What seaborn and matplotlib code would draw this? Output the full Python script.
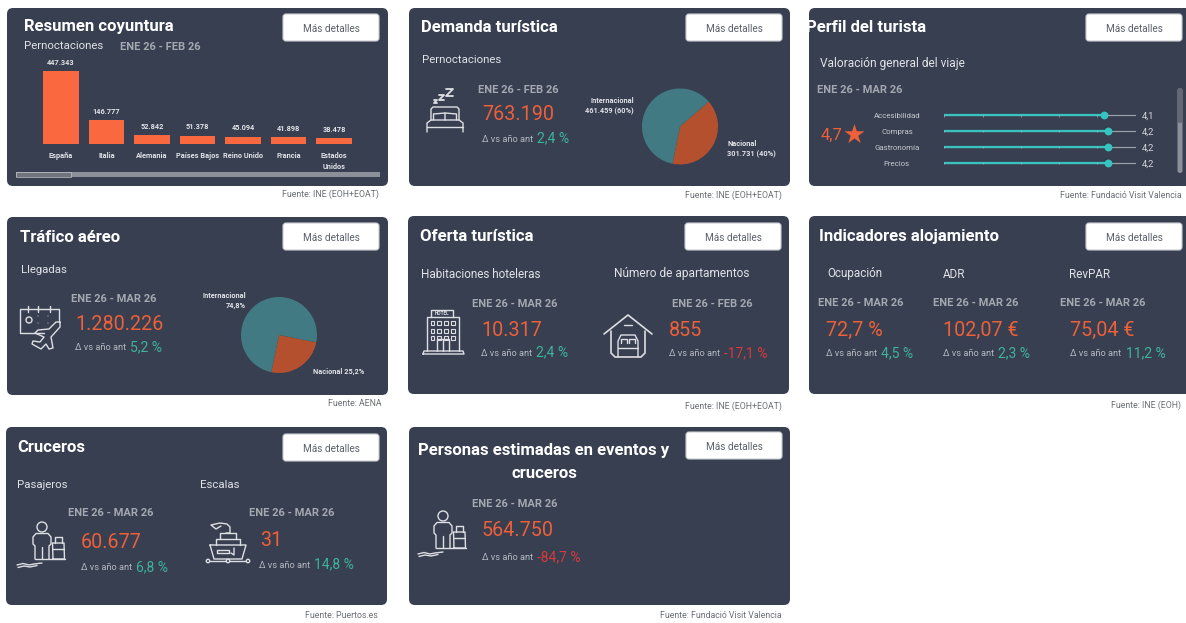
import matplotlib
matplotlib.use("Agg")
import matplotlib.pyplot as plt
import pandas as pd
import seaborn as sns
from matplotlib.patches import FancyBboxPatch, Rectangle, Circle

W, H = 1186, 623

# datos
bar_labels = ["España", "Italia", "Alemania", "Países Bajos", "Reino Unido", "Francia", "Estados\nUnidos"]
bar_values = [447343, 146777, 52842, 51378, 45094, 41898, 38478]
bar_texts = ["447.343", "146.777", "52.842", "51.378", "45.094", "41.898", "38.478"]

pie_demanda = [301731, 461459]
pie_trafico = [25.2, 74.8]

val_labels = ["Accesibilidad", "Compras", "Gastronomía", "Precios"]
val_values = [4.17, 4.27, 4.27, 4.27]
val_texts = ["4,1", "4,2", "4,2", "4,2"]

CARD = "#373F51"
ORANGE = "#EE6039"
BAR = "#F9683F"
GREEN = "#3FB39B"
RED = "#D8393B"
TEAL = "#417A82"
RUST = "#B5502F"
SLIDER = "#35C4C0"
SOFT = "#E1E3E7"
DATE = "#A4A8B0"
DELTA = "#B4B8BF"
ICON = "#DEDFE3"

sns.set_theme(style="white")
plt.rcParams["font.family"] = ["Roboto", "DejaVu Sans"]

fig = plt.figure(figsize=(W / 100, H / 100), dpi=100, facecolor="white")
bg = fig.add_axes([0, 0, 1, 1])
bg.set_xlim(0, W)
bg.set_ylim(H, 0)
bg.axis("off")


def inset(x0, y0, x1, y1):
    ax = fig.add_axes([x0 / W, 1 - y1 / H, (x1 - x0) / W, (y1 - y0) / H])
    ax.patch.set_alpha(0)
    return ax


def put(x, y, s, **kw):
    # va center queda un poco alto con esta fuente
    kw.setdefault("va", "center")
    kw.setdefault("zorder", 3)
    return bg.text(x, y + 1, s, **kw)


def card(x0, y0, x1, y1, title, tx, ty, bx, by, source, sx, sy):
    box = FancyBboxPatch((x0, y0), x1 - x0, y1 - y0, boxstyle="round,pad=0,rounding_size=6",
                         fc=CARD, ec="none", zorder=1)
    bg.add_patch(box)
    t = put(tx, ty, title, color="white", fontsize=12, fontweight="bold")
    t.set_clip_path(box)
    btn = FancyBboxPatch((bx, by), 96, 27, boxstyle="round,pad=0,rounding_size=3",
                         fc="white", ec="#C9CCD2", lw=0.8, zorder=3)
    bg.add_patch(btn)
    put(bx + 48, by + 14, "Más detalles", color="#5A5F69", fontsize=7.2, ha="center", zorder=4)
    put(sx, sy, source, color="#6B6E74", fontsize=6.3, ha="right")


def sub(x, y, s, size=8.7):
    put(x, y, s, color=SOFT, fontsize=size)


def date(x, y, s):
    put(x, y, s, color=DATE, fontsize=8, fontweight="bold")


def kpi(dx, dy, dtxt, vx, vy, value, lx, ly, px, pct, good=True):
    date(dx, dy, dtxt)
    put(vx, vy, value, color=ORANGE, fontsize=14.2)
    put(lx, ly, "Δ vs año ant", color=DELTA, fontsize=6.7)
    put(px, ly - 0.5, pct, color=GREEN if good else RED, fontsize=10)


def small(x, y, s, ha="left"):
    put(x, y, s, color=SOFT, fontsize=5.3, fontweight="bold", ha=ha)


def pline(pts, ox=0, oy=0, s=1.0, lw=1.0):
    xs = [ox + p[0] * s for p in pts]
    ys = [oy + p[1] * s for p in pts]
    bg.plot(xs, ys, color=ICON, lw=lw, zorder=3, solid_capstyle="round", solid_joinstyle="round")


def bed_icon(ox, oy):
    pline([(0, 44), (0, 35), (4, 32), (32, 32), (36, 35), (36, 44)], ox, oy)
    pline([(0, 38.5), (36, 38.5)], ox, oy)
    pline([(4, 32), (4, 21), (6, 19), (30, 19), (32, 21), (32, 32)], ox, oy)
    pline([(6.5, 32), (6.5, 26), (18, 25), (18, 32)], ox, oy)
    pline([(18, 25), (29.5, 26), (29.5, 32)], ox, oy)
    for zx, zy, z in [(7, 12, 3), (12, 7, 5), (19, 1, 7)]:
        pline([(zx, zy), (zx + z, zy), (zx, zy + z), (zx + z, zy + z)], ox, oy, lw=1.3)


def hotel_icon(ox, oy):
    pline([(8, 7), (8, 0), (30, 0), (30, 7)], ox, oy)
    put(ox + 19, oy + 2.7, "HOTEL", color=ICON, fontsize=3.4, fontweight="bold", ha="center")
    pline([(4, 41), (4, 7), (36, 7), (36, 41)], ox, oy)
    pline([(0, 44), (1, 41), (40, 41), (41, 44), (0, 44)], ox, oy)
    for r in range(3):
        for c in range(4):
            bg.add_patch(Rectangle((ox + 7.5 + c * 6.8, oy + 11 + r * 7.5), 3.6, 4, fc="none", ec=ICON, lw=0.8, zorder=3))
    pline([(14, 41), (14, 29), (26, 29), (26, 41)], ox, oy)
    pline([(20, 29), (20, 41)], ox, oy)


def house_icon(ox, oy):
    pline([(0, 19), (24, 0), (48, 19)], ox, oy, lw=1.2)
    pline([(7, 16), (7, 38), (11, 42), (37, 42), (41, 38), (41, 16)], ox, oy, lw=1.2)
    pline([(20, 10), (28, 10)], ox, oy)
    pline([(14, 42), (14, 26), (17, 20), (31, 20), (34, 26), (34, 42)], ox, oy)
    pline([(14, 33), (34, 33)], ox, oy)
    pline([(17, 28), (17, 24), (23, 24), (23, 28)], ox, oy)
    pline([(25, 28), (25, 24), (31, 24), (31, 28)], ox, oy)


def calendar_icon(ox, oy):
    pline([(24, 27), (0, 27), (0, 3), (39, 3), (39, 14)], ox, oy)
    for x in [8, 18, 30]:
        pline([(x, 0), (x, 6)], ox, oy)
    for x, y in [(18, 10), (18, 17), (28, 10), (28, 17)]:
        bg.add_patch(Circle((ox + x, oy + y), 0.5, fc=ICON, ec="none", zorder=3))
    bg.add_patch(Circle((ox + 9, oy + 14), 3, fc="none", ec=ICON, lw=1, zorder=3))
    pline([(40, 16), (36, 16), (29, 23), (18, 24), (15, 27), (24, 31), (20, 36), (13, 35), (12, 38),
           (21, 43), (26, 38), (29, 43), (33, 42), (31, 31), (40, 21), (40, 16)], ox, oy)


def person_icon(ox, oy):
    bg.add_patch(Circle((ox + 25, oy + 5), 5, fc="none", ec=ICON, lw=1, zorder=3))
    pline([(18, 37), (18, 24), (16, 22), (16, 15), (19, 11.5), (31, 11.5), (34, 15), (34, 22), (32, 24), (32, 37)], ox, oy)
    pline([(25, 25), (25, 37)], ox, oy)
    pline([(36, 37), (35.5, 21), (47, 21), (47.5, 37), (36, 37)], ox, oy)
    pline([(38, 21), (38, 15), (45, 15), (45, 21)], ox, oy)
    pline([(36, 27), (47, 27)], ox, oy)
    pline([(18, 37), (48, 37)], ox, oy)
    pline([(0, 43), (6, 41.5), (12, 43), (17, 42), (25, 41)], ox, oy)
    pline([(1, 45.5), (7, 44), (13, 45), (20, 43.5)], ox, oy)


def ship_icon(ox, oy):
    pline([(5, 23), (41, 23), (37, 37), (9, 37), (5, 23)], ox, oy)
    pline([(11, 23), (11, 17), (35, 17), (35, 23)], ox, oy)
    pline([(15, 17), (15, 11), (31, 11), (31, 17)], ox, oy)
    pline([(21, 11), (25, 11), (25, 5), (22, 2), (15, 1), (6, 3), (11, 7), (16, 4)], ox, oy)
    pline([(12, 28), (24, 28), (24, 31), (12, 31), (12, 28)], ox, oy)
    pline([(29, 26), (29, 33), (26, 31)], ox, oy)
    pline([(3, 39), (43, 39)], ox, oy)
    for x in [3, 23, 43]:
        bg.add_patch(Circle((ox + x, oy + 39), 1.7, fc=CARD, ec=ICON, lw=1, zorder=4))


# tarjeta 1
card(7, 8, 388, 186, "Resumen coyuntura", 24, 25, 283, 14, "Fuente: INE (EOH+EOAT)", 379, 193)
sub(24, 45, "Pernoctaciones", 8.2)
date(120, 45.5, "ENE 26 - FEB 26")

ax = inset(38.25, 71, 356.75, 144)
sns.barplot(data=pd.DataFrame({"pais": bar_labels, "valor": bar_values}), x="pais", y="valor",
            color=BAR, saturation=1, width=0.79, linewidth=0, ax=ax)
ax.set_ylim(0, max(bar_values))
ax.set_xlim(-0.5, 6.5)
ax.set_xlabel("")
ax.set_ylabel("")
ax.set_yticks([])
ax.tick_params(axis="x", length=0, pad=6, labelsize=5.3, labelcolor=SOFT)
for lab in ax.get_xticklabels():
    lab.set_fontweight("bold")
    lab.set_linespacing(1.4)
    lab.set_va("top")
ax.bar_label(ax.containers[0], labels=bar_texts, padding=3, color=SOFT, fontsize=5.3, fontweight="bold", clip_on=False)
sns.despine(ax=ax, left=True, bottom=True)

bg.add_patch(Rectangle((16, 172), 364, 5, fc="#8C9098", ec="none", zorder=3))
bg.add_patch(Rectangle((16, 172), 55, 5, fc="#6F747D", ec="#D5D7DA", lw=0.4, zorder=3))

# tarjeta 2
card(409, 8, 790, 186, "Demanda turística", 421, 27, 686, 14, "Fuente: INE (EOH+EOAT)", 782, 194)
sub(422, 59, "Pernoctaciones", 8.2)
kpi(478.5, 89, "ENE 26 - FEB 26", 482, 114, "763.190", 482, 138, 537, "2,4 %")
bed_icon(427, 88)
ax = inset(640, 86.5, 720, 166.5)
ax.pie(pie_demanda, colors=[RUST, TEAL], startangle=41, counterclock=False, radius=0.95,
       wedgeprops={"edgecolor": "none"})
ax.set_xlim(-1, 1)
ax.set_ylim(-1, 1)
small(634, 100, "Internacional", "right")
small(634, 110, "461.459 (60%)", "right")
small(727, 143, "Nacional")
small(727, 153, "301.731 (40%)")

# tarjeta 3
card(809, 8, 1192, 186, "Perfil del turista", 806, 27, 1086, 14, "Fuente: Fundació Visit Valencia", 1182, 194)
sub(820, 63, "Valoración general del viaje", 8.6)
date(817, 89, "ENE 26 - MAR 26")
put(821, 134, "4,7", color=ORANGE, fontsize=12)
bg.scatter([854], [134], marker="*", s=230, color=ORANGE, linewidths=0, zorder=3)

ax = inset(944.3, 107.3, 1135.7, 171)
df_val = pd.DataFrame({"item": val_labels, "valor": val_values, "pos": range(4)})
ax.hlines(range(4), 0, 5, color="#9A9EA6", lw=0.9, zorder=1)
ax.hlines(range(4), 0, val_values, color=SLIDER, lw=1.6, zorder=2)
for t in range(6):
    ax.vlines([t] * 4, [i - 0.08 for i in range(4)], [i + 0.08 for i in range(4)], color="#A9ADB4", lw=0.5, zorder=3)
sns.scatterplot(data=df_val, x="valor", y="pos", color=SLIDER, s=32, linewidth=0, zorder=4, ax=ax, clip_on=False)
ax.set_xlim(0, 5)
ax.set_ylim(3.5, -0.5)
ax.axis("off")
for i, (lab, txt) in enumerate(zip(val_labels, val_texts)):
    yy = 115.3 + i * 15.9
    put(897, yy, lab, color="#C6C9CF", fontsize=5.7, ha="center")
    put(1142, yy, txt, color="#D5D7DB", fontsize=6.8)
bg.add_patch(FancyBboxPatch((1177.5, 88), 5, 85, boxstyle="round,pad=0,rounding_size=2.5", fc="#8C9098", ec="none", zorder=3))
bg.add_patch(FancyBboxPatch((1177.5, 88), 5, 35, boxstyle="round,pad=0,rounding_size=2.5", fc="#636874", ec="none", zorder=4))

# tarjeta 4
card(7, 217, 388, 395, "Tráfico aéreo", 20, 236, 283, 223, "Fuente: AENA", 381, 403)
sub(21, 269, "Llegadas", 8.2)
kpi(71, 298, "ENE 26 - MAR 26", 75, 324, "1.280.226", 75, 347, 130, "5,2 %")
calendar_icon(20, 306)
ax = inset(239, 295, 319, 375)
ax.pie(pie_trafico, colors=[RUST, TEAL], startangle=-11, counterclock=False, radius=0.95,
       wedgeprops={"edgecolor": "none"})
ax.set_xlim(-1, 1)
ax.set_ylim(-1, 1)
small(246, 295, "Internacional", "right")
small(246, 305, "74,8%", "right")
small(313, 371, "Nacional 25,2%")

# tarjeta 5
card(408, 216, 789, 394, "Oferta turística", 420, 235.5, 685, 223, "Fuente: INE (EOH+EOAT)", 782, 405)
sub(421, 273, "Habitaciones hoteleras", 8.5)
sub(614, 273, "Número de apartamentos", 8.6)
kpi(472, 303, "ENE 26 - MAR 26", 481, 329, "10.317", 481, 352, 536, "2,4 %")
kpi(672, 303, "ENE 26 - FEB 26", 669, 329, "855", 669, 353, 724, "-17,1 %", good=False)
hotel_icon(423, 310)
house_icon(604, 315)

# tarjeta 6
card(809, 216, 1192, 394, "Indicadores alojamiento", 819, 235.5, 1086, 223, "Fuente: INE (EOH)", 1181, 404)
sub(827, 273, "Ocupación", 8.4)
sub(943, 273, "ADR", 8.4)
sub(1069, 273, "RevPAR", 8.4)
kpi(818, 302, "ENE 26 - MAR 26", 826, 329, "72,7 %", 826, 353, 881, "4,5 %")
kpi(933, 302, "ENE 26 - MAR 26", 943, 329, "102,07 €", 943, 353, 998, "2,3 %")
kpi(1060, 302, "ENE 26 - MAR 26", 1070, 329, "75,04 €", 1070, 353, 1126, "11,2 %")

# tarjeta 7
card(6, 427, 387, 605, "Cruceros", 17, 446, 283, 434, "Fuente: Puertos.es", 378, 615)
sub(17, 483.5, "Pasajeros", 8.2)
sub(200, 483.5, "Escalas", 8.2)
kpi(68, 512, "ENE 26 - MAR 26", 81, 541, "60.677", 81, 567, 136, "6,8 %")
kpi(249, 512, "ENE 26 - MAR 26", 260, 540, "31", 259, 564, 314, "14,8 %")
person_icon(17, 522)
ship_icon(205, 522)

# tarjeta 8
card(409, 427, 790, 605, "Personas estimadas en eventos y", 418, 449, 686, 432, "Fuente: Fundació Visit Valencia", 782, 614)
put(544, 472, "cruceros", color="white", fontsize=12, fontweight="bold", ha="center")
kpi(472, 503, "ENE 26 - MAR 26", 482, 530, "564.750", 482, 557, 537, "-84,7 %", good=False)
person_icon(418, 511)

fig.savefig("out.png", dpi=100)
